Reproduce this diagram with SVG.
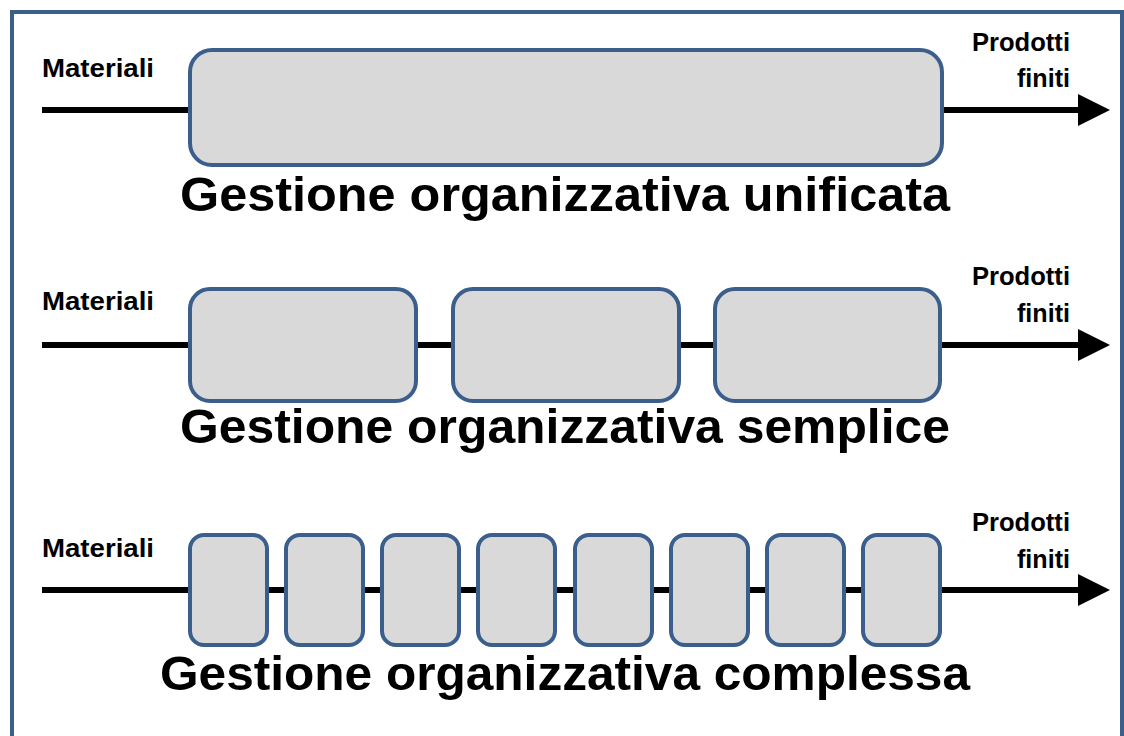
<svg xmlns="http://www.w3.org/2000/svg" width="1124" height="736" viewBox="0 0 1124 736">
  <defs>
    <marker id="arrow" markerWidth="32" markerHeight="32" refX="0" refY="16" markerUnits="userSpaceOnUse" orient="auto">
      <path d="M0,0 L32,16 L0,32 Z" fill="#000"/>
    </marker>
    <style>
      .frame { fill: none; stroke: #3b5e8c; stroke-width: 4; }
      .flow { stroke: #000; stroke-width: 6; fill: none; }
      .box { fill: #d9d9d9; stroke: #3b5e8c; stroke-width: 4; }
      .lbl { font-family: "Liberation Sans", Arial, sans-serif; font-weight: bold; font-size: 25px; fill: #000; }
      .end { text-anchor: end; }
      .title { font-family: "Liberation Sans", Arial, sans-serif; font-weight: bold; font-size: 48px; fill: #000; }
    </style>
  </defs>

  <rect x="0" y="0" width="1124" height="736" fill="#fff"/>
  <rect class="frame" x="12" y="12" width="1110" height="760"/>

  <!-- flow lines -->
  <g id="connectors">
    <line class="flow" x1="42" y1="110" x2="1078" y2="110" marker-end="url(#arrow)"/>
    <line class="flow" x1="42" y1="345" x2="1078" y2="345" marker-end="url(#arrow)"/>
    <line class="flow" x1="42" y1="590" x2="1078" y2="590" marker-end="url(#arrow)"/>
  </g>

  <!-- unified -->
  <g id="row-unificata">
    <text class="lbl" x="42" y="77" textLength="112" lengthAdjust="spacingAndGlyphs">Materiali</text>
    <text class="lbl" x="972" y="51" textLength="98" lengthAdjust="spacingAndGlyphs">Prodotti</text>
    <text class="lbl" x="1017" y="87" textLength="53" lengthAdjust="spacingAndGlyphs">finiti</text>
    <rect class="box" x="190" y="50" width="752" height="115" rx="22"/>
    <text class="title" x="180" y="211" textLength="770" lengthAdjust="spacingAndGlyphs">Gestione organizzativa unificata</text>
  </g>

  <!-- simple -->
  <g id="row-semplice">
    <text class="lbl" x="42" y="310" textLength="112" lengthAdjust="spacingAndGlyphs">Materiali</text>
    <text class="lbl" x="972" y="285" textLength="98" lengthAdjust="spacingAndGlyphs">Prodotti</text>
    <text class="lbl" x="1017" y="322" textLength="53" lengthAdjust="spacingAndGlyphs">finiti</text>
    <rect class="box" x="190" y="289" width="226" height="112" rx="20"/>
    <rect class="box" x="453" y="289" width="226" height="112" rx="20"/>
    <rect class="box" x="715" y="289" width="225" height="112" rx="20"/>
    <text class="title" x="180" y="443" textLength="770" lengthAdjust="spacingAndGlyphs">Gestione organizzativa semplice</text>
  </g>

  <!-- complex -->
  <g id="row-complessa">
    <text class="lbl" x="42" y="557" textLength="112" lengthAdjust="spacingAndGlyphs">Materiali</text>
    <text class="lbl" x="972" y="531" textLength="98" lengthAdjust="spacingAndGlyphs">Prodotti</text>
    <text class="lbl" x="1017" y="568" textLength="53" lengthAdjust="spacingAndGlyphs">finiti</text>
    <rect class="box" x="190" y="535" width="77" height="110" rx="14"/>
    <rect class="box" x="286" y="535" width="77" height="110" rx="14"/>
    <rect class="box" x="382" y="535" width="77" height="110" rx="14"/>
    <rect class="box" x="478" y="535" width="77" height="110" rx="14"/>
    <rect class="box" x="575" y="535" width="77" height="110" rx="14"/>
    <rect class="box" x="671" y="535" width="77" height="110" rx="14"/>
    <rect class="box" x="767" y="535" width="77" height="110" rx="14"/>
    <rect class="box" x="863" y="535" width="77" height="110" rx="14"/>
    <text class="title" x="160" y="690" textLength="810" lengthAdjust="spacingAndGlyphs">Gestione organizzativa complessa</text>
  </g>
</svg>
